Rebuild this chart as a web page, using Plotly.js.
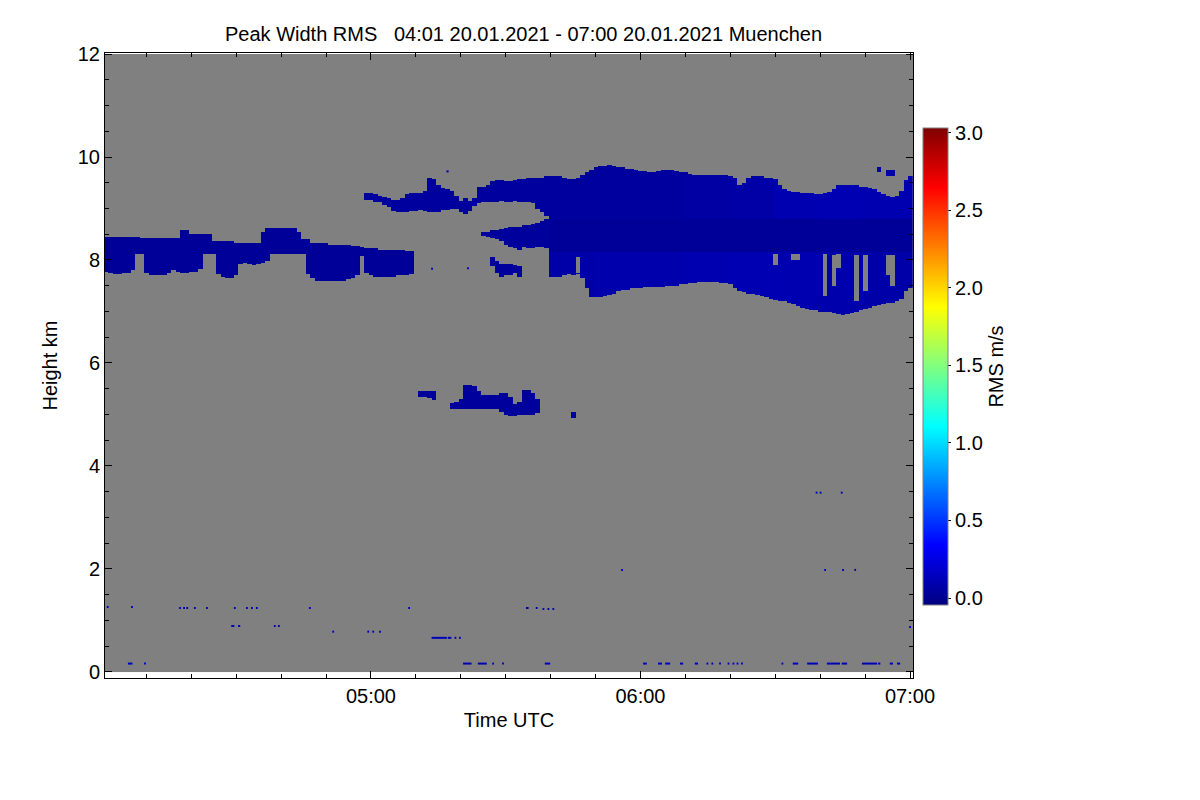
<!DOCTYPE html>
<html><head><meta charset="utf-8">
<script src="https://cdn.plot.ly/plotly-3.0.1.min.js"></script>
<style>html,body{margin:0;padding:0;background:#fff}#chart{width:1200px;height:800px}</style>
</head><body><div id="chart"></div>
<script>
// ================= DATA =================
// time is counted in minutes after 04:00 UTC, 20.01.2021; one column = one minute
const dayStr = '2021-01-20';
const firstMinute = 1;      // 04:01
const lastMinute = 180;     // 07:00
const axisStartMin = 0.8;
const axisEndMin = 180.67;
const tickTimes = ['05:00', '06:00', '07:00'];
const heightTicks = [0, 2, 4, 6, 8, 10, 12];
const rmsTicks = [0.0, 0.5, 1.0, 1.5, 2.0, 2.5, 3.0];

// lower cirrus band around 8 km, 04:01 - 05:09 (km)
const band8Start = 1;
const band8Top = [8.45,8.45,8.45,8.45,8.45,8.45,8.45,8.45,
  8.43,8.43,8.43,8.43,8.43,8.43,8.43,8.43,8.43,
  8.58,8.58,
  8.50,8.50,8.50,8.50,8.50,
  8.37,8.37,8.37,8.37,8.37,
  8.33,8.33,8.33,8.33,8.33,8.33,
  8.55,8.62,8.62,8.62,8.62,8.62,8.62,8.62,8.55,
  8.39,8.39,
  8.33,8.33,8.32,8.32,8.31,8.31,8.30,8.30,8.29,8.28,8.27,8.26,
  8.23,8.22,8.22,8.21,8.21,8.20,8.20,8.19,8.19,8.18,8.17];
const band8Base = [7.78,7.75,7.73,7.73,7.75,7.74,7.80,
  8.13,8.13,
  7.75,7.71,7.70,7.70,7.71,7.74,
  7.80,7.77,7.76,7.76,7.77,7.78,7.82,
  8.13,8.13,8.13,
  7.72,7.67,7.64,7.66,7.70,
  7.92,7.94,7.92,7.90,7.92,7.94,7.97,
  8.12,8.12,8.12,8.12,8.12,8.12,8.12,8.12,
  7.72,7.64,7.61,7.60,7.60,7.59,7.60,7.60,7.61,7.62,7.64,7.70,
  8.08,
  7.75,7.70,7.68,7.67,7.67,7.67,7.68,7.69,7.69,7.70,7.72];

// upper layer around 9.2 km, 04:59 - 05:39
const upper9Start = 59;
const upper9Top = [9.30,9.30,9.28,9.25,9.22,9.20,9.18,9.18,9.20,9.28,9.30,9.30,9.30,9.35,
  9.61,9.58,9.45,9.40,9.38,9.35,9.25,9.15,9.20,9.15,9.20,9.42,9.42,9.45,9.52,9.55,9.55,
  9.53,9.53,9.55,9.57,9.57,9.59,9.59,9.61,9.61,9.63];
const upper9Base = [9.17,9.17,9.13,9.12,9.08,9.02,8.95,8.93,8.93,8.93,8.95,8.95,8.97,8.95,
  8.93,8.92,8.92,8.97,8.97,9.00,9.00,8.93,8.90,8.95,9.05,9.10,9.12,9.12,9.13,9.13,9.15,
  9.13,9.13,9.15,9.12,9.12,9.12,9.10,9.00,8.92,8.84];

// thin layer at 8.5 km, 05:25 - 05:39
const mid85Start = 85;
const mid85Top = [8.55,8.56,8.57,8.58,8.60,8.62,8.64,8.64,8.66,8.68,8.68,8.70,8.72,8.76,8.80];
const mid85Base = [8.47,8.45,8.42,8.40,8.37,8.30,8.25,8.22,8.20,8.25,8.22,8.22,8.25,8.25,8.22];

// small patch near 7.8 km, 05:27 - 05:33
const patch8Start = 87;
const patch8Top = [8.04,7.97,7.92,7.92,7.92,7.90,7.88];
const patch8Base = [7.88,7.75,7.67,7.70,7.70,7.75,7.68];

// mid level cloud near 5.3 km, 05:11 - 05:45
const patch55Start = 71;
const patch55Top = [5.46,5.46,5.46,5.44,null,null,null,5.22,5.25,5.30,5.57,5.57,5.55,5.45,
  5.38,5.38,5.38,5.38,5.42,5.42,5.35,5.20,5.25,5.47,5.47,5.42,5.30,
  null,null,null,null,null,null,null,5.05];
const patch55Base = [5.34,5.34,5.32,5.28,null,null,null,5.11,5.11,5.10,5.11,5.11,5.11,5.11,
  5.11,5.11,5.11,5.11,5.05,5.00,4.98,4.98,5.00,5.00,5.00,5.00,5.02,
  null,null,null,null,null,null,null,4.93];

// thick cirrus 05:40 - 07:00
const bigStart = 100;
const bigTop = [9.63,9.63,9.62,9.60,9.58,9.58,9.60,9.65,9.70,9.75,
  9.80,9.82,9.82,9.84,9.82,9.80,9.80,9.78,9.78,9.76,
  9.72,9.72,9.71,9.70,9.72,9.74,9.75,9.74,9.72,9.70,
  9.70,9.68,9.66,9.65,9.65,9.66,9.66,9.65,9.65,9.64,
  9.62,9.60,9.45,9.50,9.60,9.62,9.62,9.62,9.61,9.60,
  9.58,9.45,9.38,9.35,9.33,9.32,9.30,9.30,9.30,9.28,
  9.28,9.30,9.32,9.38,9.44,9.46,9.46,9.45,9.44,9.42,
  9.42,9.40,9.38,9.32,9.28,9.25,9.22,9.25,9.35,9.55,9.62];
const bigBase = [7.67,7.67,7.68,7.70,7.72,7.70,7.72,7.65,7.45,7.28,
  7.28,7.28,7.30,7.32,7.35,7.40,7.42,7.43,7.44,7.45,
  7.46,7.47,7.47,7.48,7.48,7.48,7.49,7.50,7.50,7.52,
  7.53,7.55,7.56,7.57,7.57,7.57,7.57,7.57,7.56,7.55,
  7.52,7.45,7.40,7.38,7.35,7.35,7.33,7.30,7.27,7.24,
  7.22,7.20,7.19,7.18,7.15,7.10,7.08,7.05,7.03,7.02,
  7.00,7.00,6.99,6.97,6.95,6.93,6.95,6.97,7.00,7.02,
  7.05,7.08,7.10,7.12,7.15,7.18,7.18,7.20,7.25,7.40,7.45];
const bigCoreTop = 8.80;     // darkest (lowest RMS) part of the thick cloud
const bigCoreBase = 8.15;
const bigUpperRms = [0.05, 0.05, 0.05, 0.06, 0.07, 0.10, 0.11, 0.10]; // per 10 minutes
const bigCoreRms = 0.03;
const bigLowerRms = [0.08, 0.09, 0.09, 0.10, 0.11, 0.10, 0.09, 0.08];

// small bits above the thick cloud, 06:53 - 06:56
const topBitsStart = 173;
const topBitsTop = [9.80, null, 9.75, 9.75];
const topBitsBase = [9.69, null, 9.62, 9.62];

// gaps inside the thick cloud (minute, from km, to km)
const holeMinute = [106, 150, 154, 155, 161, 163, 164, 168, 170, 175, 176];
const holeBase =   [7.75, 7.90, 8.00, 8.00, 7.30, 7.50, 7.85, 7.20, 7.40, 7.70, 7.50];
const holeTop =    [8.05, 8.12, 8.12, 8.12, 8.12, 8.10, 8.12, 8.10, 8.10, 8.10, 8.10];

const band8Rms = 0.03, upper9Rms = 0.05, mid85Rms = 0.04, patch8Rms = 0.04, patch55Rms = 0.04, topBitsRms = 0.08;

// isolated weak echoes (start minute, end minute, height km)
const echoStart = [1.2,6.6,17.3,18.2,18.9,20.6,23.3,29.5,32.2,33.3,34.4,46.2,68.3,94.5,96.7,98.2,99.3,100.4,
  28.9,30.4,38.4,39.3,
  51.4,59.2,60.3,61.8,
  73.5,77.1,78.6,79.6,
  5.9,9.5,80.5,83.8,87.0,89.2,98.7,120.6,123.9,125.5,128.8,132.1,134.7,135.8,137.5,
  139.4,140.5,141.4,142.4,151.4,153.9,157.1,161.5,164.8,169.3,172.9,175.5,177.1,
  159.0,159.9,164.6,
  115.7,160.9,164.9,167.6,
  179.8,73.4,81.4,76.8];
const echoEnd = [1.6,7.0,17.7,18.6,19.3,21.0,23.7,29.9,32.6,33.7,34.8,46.6,68.7,95.1,97.1,98.6,99.7,100.8,
  29.6,30.9,38.8,39.7,
  51.8,59.6,60.7,62.2,
  76.9,77.9,79.0,80.0,
  6.9,9.9,82.4,85.8,87.4,89.6,99.9,121.4,124.8,126.6,129.5,132.8,135.1,136.2,137.9,
  139.8,140.9,141.8,142.8,151.8,155.1,159.5,164.4,166.0,172.7,173.4,176.2,177.8,
  159.4,160.3,165.0,
  116.1,161.3,165.3,168.0,
  180.2,73.8,81.8,77.3];
const echoHeight = [1.26,1.26,1.24,1.24,1.24,1.24,1.24,1.24,1.24,1.24,1.24,1.24,1.24,1.24,1.24,1.22,1.22,1.22,
  0.89,0.89,0.89,0.89,
  0.78,0.78,0.78,0.78,
  0.66,0.66,0.66,0.66,
  0.16,0.16,0.16,0.16,0.16,0.16,0.16,0.16,0.16,0.16,0.16,0.16,0.16,0.16,0.16,
  0.16,0.16,0.16,0.16,0.16,0.16,0.16,0.16,0.16,0.16,0.16,0.16,0.16,
  3.48,3.48,3.48,
  1.98,1.98,1.98,1.98,
  0.87,7.83,7.84,9.72];

// ================= BUILD =================
function pad(n){ return (n < 10 ? '0' : '') + n; }
function minToTime(m){
  const s = Math.round(m * 60);
  const hh = 4 + Math.floor(s / 3600), mm = Math.floor((s % 3600) / 60), ss = s % 60;
  return dayStr + ' ' + pad(hh) + ':' + pad(mm) + ':' + pad(ss);
}
const gridStepKm = 0.025;
const nRows = Math.round(12 / gridStepKm);
const nCols = lastMinute - firstMinute + 1;
const xEdges = [];
for (let c = 0; c <= nCols; c++) xEdges.push(minToTime(firstMinute - 0.5 + c));
const yEdges = [];
for (let r = 0; r <= nRows; r++) yEdges.push(+(r * gridStepKm).toFixed(3));
const z = Array.from({length: nRows}, () => new Array(nCols).fill(null));

function paint(start, tops, bases, rmsOf){
  tops.forEach((top, i) => {
    const base = bases[i];
    if (top == null || base == null) return;
    const m = start + i, col = m - firstMinute;
    if (col < 0 || col >= nCols) return;
    for (let r = 0; r < nRows; r++){
      const h = (r + 0.5) * gridStepKm;
      if (h >= base && h <= top) z[r][col] = rmsOf(m, h);
    }
  });
}
paint(band8Start, band8Top, band8Base, () => band8Rms);
paint(upper9Start, upper9Top, upper9Base, () => upper9Rms);
paint(mid85Start, mid85Top, mid85Base, () => mid85Rms);
paint(patch8Start, patch8Top, patch8Base, () => patch8Rms);
paint(patch55Start, patch55Top, patch55Base, () => patch55Rms);
paint(bigStart, bigTop, bigBase, (m, h) => {
  const k = Math.min(bigUpperRms.length - 1, Math.floor((m - bigStart) / 10));
  if (h > bigCoreTop) return bigUpperRms[k];
  if (h >= bigCoreBase) return bigCoreRms;
  return bigLowerRms[k];
});
paint(topBitsStart, topBitsTop, topBitsBase, () => topBitsRms);
holeMinute.forEach((m, i) => {
  const col = m - firstMinute;
  for (let r = 0; r < nRows; r++){
    const h = (r + 0.5) * gridStepKm;
    if (h >= holeBase[i] && h <= holeTop[i]) z[r][col] = null;
  }
});

const ex = [], ey = [];
echoStart.forEach((s, i) => {
  ex.push(minToTime(s), minToTime(echoEnd[i]), null);
  ey.push(echoHeight[i], echoHeight[i], null);
});

const jet = [[0,'rgb(0,0,128)'],[0.125,'rgb(0,0,255)'],[0.375,'rgb(0,255,255)'],
             [0.625,'rgb(255,255,0)'],[0.875,'rgb(255,0,0)'],[1,'rgb(128,0,0)']];
const FONT = 'Liberation Sans, Arial, Helvetica, sans-serif';

const traces = [
  { type: 'heatmap', x: [minToTime(axisStartMin), minToTime(axisEndMin)], y: [0, 12], z: [[1]],
    colorscale: [[0,'#808080'],[1,'#808080']], showscale: false, hoverinfo: 'skip' },
  { type: 'heatmap', x: xEdges, y: yEdges, z: z, coloraxis: 'coloraxis', zsmooth: false,
    hoverongaps: false },
  { type: 'scatter', mode: 'lines', x: ex, y: ey, connectgaps: false,
    line: {color: '#0000b8', width: 2}, hoverinfo: 'skip', showlegend: false }
];

const layout = {
  width: 1200, height: 800,
  margin: {l: 105, r: 287, t: 53, b: 122},
  paper_bgcolor: '#fff', plot_bgcolor: '#fff',
  font: {family: FONT, size: 20, color: '#000'},
  showlegend: false,
  title: {text: 'Peak Width RMS\u00a0\u00a0\u00a004:01 20.01.2021 - 07:00 20.01.2021 Muenchen',
    x: 0.518, xref: 'paper', xanchor: 'center', y: 0.958, yref: 'container', yanchor: 'middle',
    font: {family: FONT, size: 20, color: '#000'}},
  xaxis: {
    type: 'date', range: [minToTime(axisStartMin), minToTime(axisEndMin)],
    tickmode: 'array', tickvals: tickTimes.map(t => dayStr + ' ' + t + ':00'), ticktext: tickTimes,
    ticks: 'inside', ticklen: 7, tickcolor: '#000', tickwidth: 1,
    minor: {dtick: 600000, tick0: dayStr + ' 04:00:00', ticks: 'inside', ticklen: 4, tickcolor: '#000'},
    showline: true, linecolor: '#000', linewidth: 1, mirror: 'ticks',
    showgrid: false, zeroline: false, automargin: false,
    tickfont: {size: 20},
    title: {text: 'Time UTC', font: {size: 20}, standoff: 6}
  },
  yaxis: {
    range: [-0.12, 12.02], tickmode: 'array', tickvals: heightTicks,
    ticks: 'inside', ticklen: 7, tickcolor: '#000',
    minor: {dtick: 0.5, ticks: 'inside', ticklen: 4, tickcolor: '#000'},
    showline: true, linecolor: '#000', linewidth: 1, mirror: 'ticks',
    showgrid: false, zeroline: false, automargin: false,
    tickfont: {size: 20},
    title: {text: 'Height km', font: {size: 20}, standoff: 14}
  },
  coloraxis: {
    cmin: -0.045, cmax: 3.03, colorscale: jet,
    colorbar: {
      x: 1.0124, xanchor: 'left', xpad: 0, y: 0.4984, yanchor: 'middle', ypad: 0,
      len: 477, lenmode: 'pixels', thickness: 25, thicknessmode: 'pixels',
      outlinewidth: 1, outlinecolor: '#808080',
      tickmode: 'array', tickvals: rmsTicks, tickformat: '.1f',
      ticks: 'outside', ticklen: 3, tickcolor: '#000',
      tickfont: {size: 20},
      title: {text: 'RMS m/s', side: 'right', font: {size: 20}}
    }
  }
};

Plotly.newPlot('chart', traces, layout, {displayModeBar: false, staticPlot: true});
</script>
</body></html>
